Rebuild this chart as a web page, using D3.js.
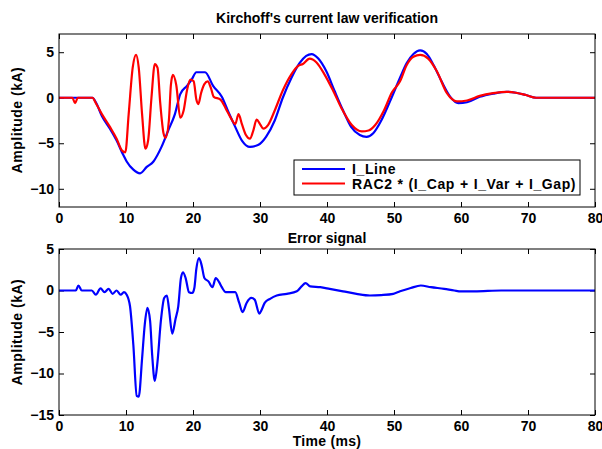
<!DOCTYPE html>
<html>
<head>
<meta charset="utf-8">
<script src="https://cdn.jsdelivr.net/npm/d3@7"></script>
<style>
  body { margin:0; background:#fff; }
  text { font-family: Arial, "Liberation Sans", Helvetica, sans-serif; font-weight:bold; }
</style>
</head>
<body>
<div id="chart"></div>
<script>
	// I_Line (kA) vs time (ms)
	var tLine = [0,5,5.5,6.4,7.6,8.6,9.6,10.1,11.1,12.1,13.1,14.1,15.3,16.3,17.3,18.1,19.1,19.8,20.5,21.8,23.0,24.3,25.3,26.3,27.3,28.5,29.7,30.9,32.2,33.4,34.7,35.9,36.9,37.7,38.7,39.9,41.1,42.4,43.6,44.9,45.9,46.9,48.1,49.4,50.9,51.9,52.9,53.9,54.9,55.9,57.1,58.4,59.6,60.9,62.8,64.8,66.8,68.2,69.7,71.2,80]
	var iLine = [0,0,-0.5,-2.0,-3.4,-4.7,-6.3,-7.0,-7.9,-8.3,-7.6,-7.0,-5.4,-3.6,-1.8,0.4,1.3,2.0,2.8,2.8,1.3,0.1,-1.6,-3.2,-4.7,-5.4,-5.2,-4.3,-2.5,0,2.2,3.8,4.6,4.8,4.3,2.9,0.8,-1.4,-3.2,-4.1,-4.3,-3.9,-2.5,-0.4,2.2,3.8,4.8,5.2,4.8,3.6,1.8,0.1,-0.6,-0.5,0.1,0.45,0.65,0.55,0.3,0,0]

	// RAC2 * (I_Cap + I_Var + I_Gap)
	var tSum = [0,2.0,2.4,2.8,5,5.5,6.4,7.6,8.6,9.4,9.9,10.4,11.0,11.5,11.9,12.4,12.9,13.3,13.8,14.3,14.7,15.1,15.6,15.9,16.4,16.7,17.0,17.5,18.1,18.6,19.1,19.6,20.1,20.5,20.8,21.2,21.7,22.2,22.7,23.1,24.1,24.9,25.7,26.3,26.8,27.3,27.9,28.5,29.0,29.5,30.0,30.5,31.2,32.2,33.4,34.7,35.7,36.4,37.4,38.4,39.6,40.9,42.2,43.7,45.2,46.2,47.2,48.5,49.7,50.9,51.9,52.9,53.9,55.1,56.4,57.9,59.4,60.9,62.8,64.8,66.8,68.2,69.7,71.2,80]
	var racSum = [0,0,-0.6,0,0,-0.6,-1.8,-3.2,-4.5,-5.8,-6.0,-1.8,3.3,4.7,3.3,-1.8,-5.6,-4.7,0,3.7,3.3,-0.5,-3.9,-4.4,-2.5,1.4,2.5,1.4,-2.2,-1.4,0.8,2.0,1.8,-0.2,-0.7,0.5,1.5,1.8,1.0,0.1,-0.2,-1.2,-2.3,-2.9,-1.8,-2.9,-4.1,-4.5,-3.6,-2.4,-2.9,-3.4,-3.0,-1.4,0.8,2.6,3.5,3.7,4.3,3.9,2.6,0.8,-1.2,-3.0,-3.7,-3.6,-3.0,-1.4,0.6,1.8,3.6,4.5,4.7,4.3,2.9,0.5,-0.4,-0.3,0.2,0.5,0.65,0.55,0.3,0,0]

	// error signal
	var tErr = [0,2.5,2.9,3.4,4.9,5.5,6.2,6.8,7.4,8.0,8.6,9.2,9.7,10.1,10.6,11.1,11.6,11.9,12.4,12.8,13.2,13.6,13.9,14.3,14.7,15.2,15.7,16.1,16.4,16.9,17.4,17.8,18.2,18.5,18.9,19.4,19.9,20.2,20.5,20.9,21.3,21.7,22.3,22.9,23.4,23.9,24.3,24.9,26.3,26.9,27.4,28.0,28.7,29.2,29.9,30.2,30.7,31.5,32.5,34.0,35.5,36.2,36.8,37.5,39.0,40.4,42.4,44.4,46.4,48.1,49.9,50.9,52.5,54,55.5,57.5,59,60,62,66,80]
	var errSig = [0,0,0.6,0,0,-0.5,0.25,-0.2,0.2,-0.4,0,-0.5,-0.2,-0.5,-1.9,-6.6,-12.7,-12.8,-8.2,-4.1,-2.1,-3.7,-7.7,-10.9,-8.6,-3.7,-0.9,-0.6,-2.1,-5.2,-3.4,-1.9,1.5,2.2,1.5,-0.2,-0.3,0.3,2.6,3.9,3.0,1.5,1.1,0.4,1.5,1.0,0.4,-0.2,-0.2,-1.5,-2.6,-1.5,-0.9,-1.1,-2.8,-2.4,-1.5,-1.0,-0.6,-0.4,-0.1,0.5,0.9,0.5,0.4,0.2,-0.1,-0.4,-0.6,-0.55,-0.4,-0.1,0.3,0.6,0.4,0.2,0,-0.1,-0.1,0,0]

	var xTicks = [0,10,20,30,40,50,60,70,80]
	var yTicksTop = [-10,-5,0,5]
	var yTicksBot = [-15,-10,-5,0,5]
	var legendNames = ["I_Line","RAC2 * (I_Cap + I_Var + I_Gap)"]
	var colors = ["#0000ff","#ff0000"]

	var W = 602, H = 449
	var svg = d3.select("#chart").append("svg").attr("width",W).attr("height",H)

	var x = d3.scaleLinear().domain([0,80]).range([59,595])

	function zip(t,v){
		var out = []
		for(var i=0;i<t.length;i++){ out.push([t[i],v[i]]) }
		return out
	}

	function panel(top,bottom,yDom,yTicks){
		var y = d3.scaleLinear().domain(yDom).range([bottom,top])
		var g = svg.append("g")
		// ticks point inward, on all four sides
		g.append("g").attr("transform","translate(0,"+bottom+")")
			.call(d3.axisBottom(x).tickValues(xTicks).tickSizeInner(-5).tickSizeOuter(0).tickPadding(6))
		g.append("g").attr("transform","translate(0,"+top+")")
			.call(d3.axisTop(x).tickValues(xTicks).tickSizeInner(-5).tickSizeOuter(0).tickFormat(""))
		g.append("g").attr("transform","translate(59,0)")
			.call(d3.axisLeft(y).tickValues(yTicks).tickSizeInner(-5).tickSizeOuter(0).tickPadding(5))
		g.append("g").attr("transform","translate(595,0)")
			.call(d3.axisRight(y).tickValues(yTicks).tickSizeInner(-5).tickSizeOuter(0).tickFormat(""))
		g.selectAll(".domain").remove()
		g.selectAll(".tick line").attr("stroke","#000")
		g.selectAll(".tick text").attr("font-size",14).attr("font-weight","bold").attr("fill","#000")
			.attr("font-family","Arial, 'Liberation Sans', sans-serif")
		return {g:g,y:y}
	}

	function frame(top,bottom){
		svg.append("rect").attr("x",59).attr("y",top).attr("width",536).attr("height",bottom-top)
			.attr("fill","none").attr("stroke","#000").attr("stroke-width",1)
	}

	function drawLine(p,t,v,color){
		var line = d3.line().curve(d3.curveMonotoneX)
			.x(function(d){return x(d[0])}).y(function(d){return p.y(d[1])})
		svg.append("path").datum(zip(t,v)).attr("d",line)
			.attr("fill","none").attr("stroke",color).attr("stroke-width",2.2)
			.attr("stroke-linejoin","round")
	}

	// top panel
	var p1 = panel(34,207,[-12,7],yTicksTop)
	drawLine(p1,tLine,iLine,colors[0])
	drawLine(p1,tSum,racSum,colors[1])
	frame(34,207)

	// legend
	svg.append("rect").attr("x",294).attr("y",160).attr("width",286).attr("height",35)
		.attr("fill","#fff").attr("stroke","#000").attr("stroke-width",1)
	legendNames.forEach(function(name,i){
		var ly = 169 + i*14.5
		svg.append("line").attr("x1",302).attr("x2",345).attr("y1",ly).attr("y2",ly)
			.attr("stroke",colors[i]).attr("stroke-width",2)
		svg.append("text").text(name).attr("x",352).attr("y",ly+5)
			.attr("font-size",14).attr("letter-spacing",0.6).attr("word-spacing",0.5).attr("fill","#000")
	})

	svg.append("text").text("Kirchoff's current law verification").attr("x",327).attr("y",23)
		.attr("text-anchor","middle").attr("font-size",14)
	svg.append("text").text("Error signal").attr("x",327).attr("y",243)
		.attr("text-anchor","middle").attr("font-size",14)
	svg.append("text").text("Amplitude (kA)").attr("transform","translate(22,120) rotate(-90)")
		.attr("text-anchor","middle").attr("font-size",14).attr("letter-spacing",0.5)

	// bottom panel
	var p2 = panel(249,415,[-15,5],yTicksBot)
	drawLine(p2,tErr,errSig,colors[0])
	frame(249,415)

	svg.append("text").text("Time (ms)").attr("x",327).attr("y",446)
		.attr("text-anchor","middle").attr("font-size",14).attr("letter-spacing",0.3)
	svg.append("text").text("Amplitude (kA)").attr("transform","translate(22,332) rotate(-90)")
		.attr("text-anchor","middle").attr("font-size",14).attr("letter-spacing",0.5)
</script>
</body>
</html>
